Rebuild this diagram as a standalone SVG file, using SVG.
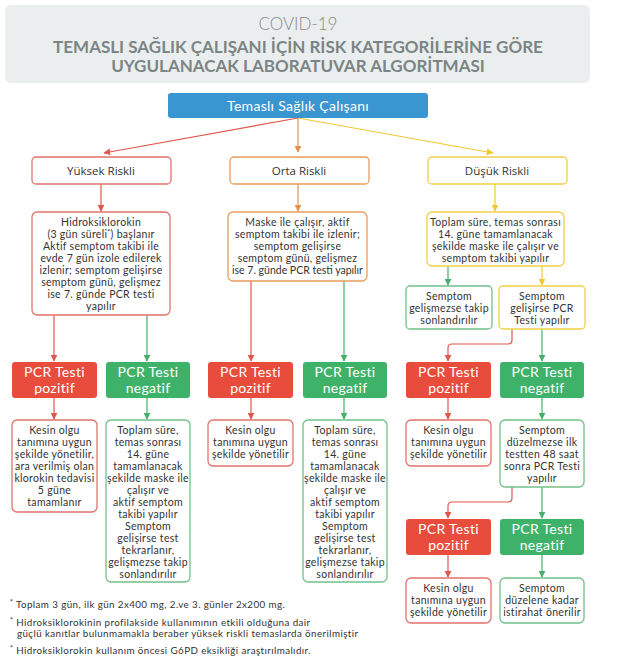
<svg xmlns="http://www.w3.org/2000/svg" width="622" height="664" viewBox="0 0 622 664">
<defs>
<style>
.t{font-family:Lato,"Open Sans","Liberation Sans",sans-serif;font-size:10.5px;letter-spacing:0.3px;fill:#333;text-anchor:middle}
.h{font-family:"Open Sans",Lato,"Liberation Sans",sans-serif;font-size:11.5px;fill:#333;text-anchor:middle}
.w{font-family:Lato,"Open Sans","Liberation Sans",sans-serif;font-size:14px;letter-spacing:0.3px;fill:#fff;text-anchor:middle}
.f{font-family:Lato,"Open Sans","Liberation Sans",sans-serif;font-size:9.8px;letter-spacing:0.4px;fill:#333}
.ob{fill:#fff;stroke-width:1.3}
.r{stroke:#e0736a}.g{stroke:#72c18a}.o{stroke:#ea9c5c}.y{stroke:#f0cf4a}
.fr{fill:#e84c3d}.fg{fill:#3fb26a}
.cr{stroke:#e0584c;fill:none;stroke-width:1.2}
.cg{stroke:#45b06a;fill:none;stroke-width:1.2}
.co{stroke:#e8904a;fill:none;stroke-width:1.2}
.cy{stroke:#f0c830;fill:none;stroke-width:1.2}
</style>
<marker id="mr" viewBox="0 0 10 10" refX="9" refY="5" markerWidth="7" markerHeight="7" markerUnits="userSpaceOnUse" orient="auto"><path d="M0,0L10,5L0,10z" fill="#e0584c"/></marker>
<marker id="mg" viewBox="0 0 10 10" refX="9" refY="5" markerWidth="7" markerHeight="7" markerUnits="userSpaceOnUse" orient="auto"><path d="M0,0L10,5L0,10z" fill="#45b06a"/></marker>
<marker id="mo" viewBox="0 0 10 10" refX="9" refY="5" markerWidth="7" markerHeight="7" markerUnits="userSpaceOnUse" orient="auto"><path d="M0,0L10,5L0,10z" fill="#e8904a"/></marker>
<marker id="my" viewBox="0 0 10 10" refX="9" refY="5" markerWidth="7" markerHeight="7" markerUnits="userSpaceOnUse" orient="auto"><path d="M0,0L10,5L0,10z" fill="#f0c830"/></marker>
</defs>
<rect width="622" height="664" fill="#fff"/>

<g id="header">
<rect x="5" y="5" width="585" height="78" rx="6" fill="#ebeeee"/>
<text x="298" y="30" text-anchor="middle" font-family="Lato,'Open Sans',sans-serif" font-weight="300" font-size="17" fill="#838d8d">COVID-19</text>
<text x="298" y="53" text-anchor="middle" font-family="Lato,'Open Sans',sans-serif" font-weight="700" font-size="17" fill="#7b8585">TEMASLI SAĞLIK ÇALIŞANI İÇİN RİSK KATEGORİLERİNE GÖRE</text>
<text x="298" y="72" text-anchor="middle" font-family="Lato,'Open Sans',sans-serif" font-weight="700" font-size="17" fill="#7b8585">UYGULANACAK LABORATUVAR ALGORİTMASI</text>
</g>

<g id="connectors">
<path class="cr" d="M298,118L104,153" marker-end="url(#mr)"/>
<path class="co" d="M298,118L298,152" marker-end="url(#mo)"/>
<path class="cy" d="M298,118L493,153" marker-end="url(#my)"/>
<path class="cr" d="M101,184V211" marker-end="url(#mr)"/>
<path class="co" d="M298,184V211" marker-end="url(#mo)"/>
<path class="cy" d="M495,184V211" marker-end="url(#my)"/>
<path class="cr" d="M54,315V361" marker-end="url(#mr)"/>
<path class="cg" d="M147,315V361" marker-end="url(#mg)"/>
<path class="cr" d="M54,398V419" marker-end="url(#mr)"/>
<path class="cg" d="M147,398V419" marker-end="url(#mg)"/>
<path class="cr" d="M251,281V361" marker-end="url(#mr)"/>
<path class="cg" d="M344,281V361" marker-end="url(#mg)"/>
<path class="cr" d="M251,398V419" marker-end="url(#mr)"/>
<path class="cg" d="M344,398V419" marker-end="url(#mg)"/>
<path class="cg" d="M448,266V285" marker-end="url(#mg)"/>
<path class="cy" d="M542,266V285" marker-end="url(#my)"/>
<path class="cr" d="M512,329V340Q512,344 508,344H452Q448,344 448,348V361" marker-end="url(#mr)"/>
<path class="cg" d="M542,329V361" marker-end="url(#mg)"/>
<path class="cr" d="M448,398V419" marker-end="url(#mr)"/>
<path class="cg" d="M542,398V419" marker-end="url(#mg)"/>
<path class="cr" d="M512,487V498Q512,502 508,502H452Q448,502 448,506V518" marker-end="url(#mr)"/>
<path class="cg" d="M542,487V518" marker-end="url(#mg)"/>
<path class="cr" d="M448,555V577" marker-end="url(#mr)"/>
<path class="cg" d="M542,555V577" marker-end="url(#mg)"/>
</g>

<g id="root">
<rect x="168" y="93" width="260" height="25" rx="3" fill="#3a96d0"/>
<text class="w" x="298" y="110.5" font-size="15.5">Temaslı Sağlık Çalışanı</text>
</g>

<g id="yuksek"><rect class="ob r" x="32" y="157" width="139" height="27" rx="4"/><text class="h" x="101" y="174.5">Yüksek Riskli</text></g>
<g id="orta"><rect class="ob o" x="230" y="157" width="139" height="27" rx="4"/><text class="h" x="299" y="174.5">Orta Riskli</text></g>
<g id="dusuk"><rect class="ob y" x="428" y="157" width="139" height="27" rx="4"/><text class="h" x="497" y="174.5">Düşük Riskli</text></g>

<g id="hidrok">
<rect class="ob r" x="32" y="212" width="138" height="103" rx="5"/>
<text class="t" x="101" y="226">Hidroksiklorokin</text>
<text class="t" x="101" y="238">(3 gün süreli<tspan font-size="7" dy="-3">*</tspan><tspan dy="3">) başlanır</tspan></text>
<text class="t" x="101" y="250">Aktif semptom takibi ile</text>
<text class="t" x="101" y="262">evde 7 gün izole edilerek</text>
<text class="t" x="101" y="274">izlenir; semptom gelişirse</text>
<text class="t" x="101" y="286">semptom günü, gelişmez</text>
<text class="t" x="101" y="298">ise 7. günde PCR testi</text>
<text class="t" x="101" y="310">yapılır</text>
</g>

<g id="maske">
<rect class="ob o" x="228" y="212" width="139" height="69" rx="5"/>
<text class="t" x="297.5" y="226">Maske ile çalışır, aktif</text>
<text class="t" x="297.5" y="238">semptom takibi ile izlenir;</text>
<text class="t" x="297.5" y="250">semptom gelişirse</text>
<text class="t" x="297.5" y="262">semptom günü, gelişmez</text>
<text class="t" x="297.5" y="274" style="letter-spacing:0">ise 7. günde PCR testi yapılır</text>
</g>

<g id="toplamd">
<rect class="ob y" x="427" y="212" width="137" height="54" rx="5"/>
<text class="t" x="495.5" y="226">Toplam süre, temas sonrası</text>
<text class="t" x="495.5" y="238">14. güne tamamlanacak</text>
<text class="t" x="495.5" y="250">şekilde maske ile çalışır ve</text>
<text class="t" x="495.5" y="262">semptom takibi yapılır</text>
</g>

<g id="gelismezse">
<rect class="ob g" x="406" y="286" width="86" height="43" rx="4"/>
<text class="t" x="449" y="300">Semptom</text>
<text class="t" x="449" y="312">gelişmezse takip</text>
<text class="t" x="449" y="324">sonlandırılır</text>
</g>
<g id="gelisirse">
<rect class="ob y" x="499" y="286" width="86" height="43" rx="4"/>
<text class="t" x="542" y="300">Semptom</text>
<text class="t" x="542" y="312">gelişirse PCR</text>
<text class="t" x="542" y="324">Testi yapılır</text>
</g>

<g id="poz1"><rect class="fr" x="12" y="362" width="85" height="36" rx="3"/><text class="w" x="54.5" y="377">PCR Testi</text><text class="w" x="54.5" y="393">pozitif</text></g>
<g id="neg1"><rect class="fg" x="106" y="362" width="84" height="36" rx="3"/><text class="w" x="148" y="377">PCR Testi</text><text class="w" x="148" y="393">negatif</text></g>
<g id="poz2"><rect class="fr" x="208" y="362" width="85" height="36" rx="3"/><text class="w" x="250.5" y="377">PCR Testi</text><text class="w" x="250.5" y="393">pozitif</text></g>
<g id="neg2"><rect class="fg" x="303" y="362" width="84" height="36" rx="3"/><text class="w" x="345" y="377">PCR Testi</text><text class="w" x="345" y="393">negatif</text></g>
<g id="poz3"><rect class="fr" x="406" y="362" width="85" height="36" rx="3"/><text class="w" x="448.5" y="377">PCR Testi</text><text class="w" x="448.5" y="393">pozitif</text></g>
<g id="neg3"><rect class="fg" x="500" y="362" width="84" height="36" rx="3"/><text class="w" x="542" y="377">PCR Testi</text><text class="w" x="542" y="393">negatif</text></g>

<g id="kesin1">
<rect class="ob r" x="12" y="420" width="85" height="92" rx="5"/>
<text class="t" x="54.5" y="434">Kesin olgu</text>
<text class="t" x="54.5" y="446">tanımına uygun</text>
<text class="t" x="54.5" y="458">şekilde yönetilir,</text>
<text class="t" x="54.5" y="470">ara verilmiş olan</text>
<text class="t" x="54.5" y="482">klorokin tedavisi</text>
<text class="t" x="54.5" y="494">5 güne</text>
<text class="t" x="54.5" y="506">tamamlanır</text>
</g>

<g id="toplam1">
<rect class="ob g" x="106" y="420" width="84" height="162" rx="5"/>
<text class="t" x="148" y="434">Toplam süre,</text>
<text class="t" x="148" y="446">temas sonrası</text>
<text class="t" x="148" y="458">14. güne</text>
<text class="t" x="148" y="470">tamamlanacak</text>
<text class="t" x="148" y="482">şekilde maske ile</text>
<text class="t" x="148" y="494">çalışır ve</text>
<text class="t" x="148" y="506">aktif semptom</text>
<text class="t" x="148" y="518">takibi yapılır</text>
<text class="t" x="148" y="530">Semptom</text>
<text class="t" x="148" y="542">gelişirse test</text>
<text class="t" x="148" y="554">tekrarlanır,</text>
<text class="t" x="148" y="566">gelişmezse takip</text>
<text class="t" x="148" y="578">sonlandırılır</text>
</g>

<g id="kesin2">
<rect class="ob r" x="208" y="420" width="85" height="46" rx="5"/>
<text class="t" x="250.5" y="434">Kesin olgu</text>
<text class="t" x="250.5" y="446">tanımına uygun</text>
<text class="t" x="250.5" y="458">şekilde yönetilir</text>
</g>

<g id="toplam2">
<rect class="ob g" x="303" y="420" width="84" height="162" rx="5"/>
<text class="t" x="345" y="434">Toplam süre,</text>
<text class="t" x="345" y="446">temas sonrası</text>
<text class="t" x="345" y="458">14. güne</text>
<text class="t" x="345" y="470">tamamlanacak</text>
<text class="t" x="345" y="482">şekilde maske ile</text>
<text class="t" x="345" y="494">çalışır ve</text>
<text class="t" x="345" y="506">aktif semptom</text>
<text class="t" x="345" y="518">takibi yapılır</text>
<text class="t" x="345" y="530">Semptom</text>
<text class="t" x="345" y="542">gelişirse test</text>
<text class="t" x="345" y="554">tekrarlanır,</text>
<text class="t" x="345" y="566">gelişmezse takip</text>
<text class="t" x="345" y="578">sonlandırılır</text>
</g>

<g id="kesin3">
<rect class="ob r" x="406" y="420" width="85" height="46" rx="5"/>
<text class="t" x="448.5" y="434">Kesin olgu</text>
<text class="t" x="448.5" y="446">tanımına uygun</text>
<text class="t" x="448.5" y="458">şekilde yönetilir</text>
</g>

<g id="duzelmezse">
<rect class="ob g" x="500" y="420" width="84" height="67" rx="5"/>
<text class="t" x="542" y="434">Semptom</text>
<text class="t" x="542" y="446">düzelmezse ilk</text>
<text class="t" x="542" y="458">testten 48 saat</text>
<text class="t" x="542" y="470">sonra PCR Testi</text>
<text class="t" x="542" y="482">yapılır</text>
</g>

<g id="poz4"><rect class="fr" x="406" y="519" width="85" height="36" rx="3"/><text class="w" x="448.5" y="534">PCR Testi</text><text class="w" x="448.5" y="550">pozitif</text></g>
<g id="neg4"><rect class="fg" x="500" y="519" width="84" height="36" rx="3"/><text class="w" x="542" y="534">PCR Testi</text><text class="w" x="542" y="550">negatif</text></g>

<g id="kesin4">
<rect class="ob r" x="406" y="578" width="85" height="45" rx="5"/>
<text class="t" x="448.5" y="592">Kesin olgu</text>
<text class="t" x="448.5" y="604">tanımına uygun</text>
<text class="t" x="448.5" y="616">şekilde yönetilir</text>
</g>
<g id="istirahat">
<rect class="ob g" x="500" y="578" width="84" height="45" rx="5"/>
<text class="t" x="542" y="592">Semptom</text>
<text class="t" x="542" y="604">düzelene kadar</text>
<text class="t" x="542" y="616">istirahat önerilir</text>
</g>

<g id="footnotes">
<text class="f" x="10" y="608"><tspan font-size="7" dy="-3">*</tspan><tspan dy="3"> Toplam 3 gün, ilk gün 2x400 mg, 2.ve 3. günler 2x200 mg.</tspan></text>
<text class="f" x="10" y="626"><tspan font-size="7" dy="-3">*</tspan><tspan dy="3"> Hidroksiklorokinin profilakside kullanımının etkili olduğuna dair</tspan></text>
<text class="f" x="17" y="637">güçlü kanıtlar bulunmamakla beraber yüksek riskli temaslarda önerilmiştir</text>
<text class="f" x="10" y="654"><tspan font-size="7" dy="-3">*</tspan><tspan dy="3"> Hidroksiklorokin kullanım öncesi G6PD eksikliği araştırılmalıdır.</tspan></text>
</g>
</svg>
